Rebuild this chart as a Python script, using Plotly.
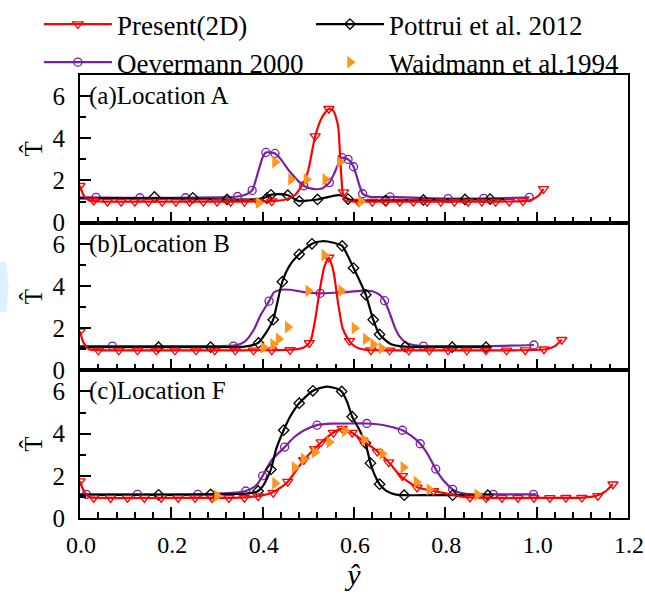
import plotly.graph_objects as go
from plotly.subplots import make_subplots

# ---------------- Location A ----------------
a_present_x = [0.0, 0.008, 0.02, 0.05, 0.2, 0.35, 0.42, 0.45, 0.47, 0.49, 0.50, 0.515, 0.53,
               0.545, 0.555, 0.565, 0.57, 0.575, 0.58, 0.60, 0.7, 0.8, 0.9, 0.97, 0.99, 1.005, 1.015]
a_present_T = [1.75, 1.3, 1.05, 1.0, 1.0, 1.0, 1.02, 1.1, 1.3, 1.9, 2.5, 4.1, 5.0,
               5.4, 5.3, 4.6, 3.0, 1.45, 1.05, 1.0, 1.0, 1.0, 1.0, 1.02, 1.1, 1.3, 1.6]
a_present_mx = [0.0, 0.03, 0.06, 0.09, 0.12, 0.15, 0.18, 0.21, 0.24, 0.27, 0.30, 0.33, 0.36, 0.39,
                0.42, 0.515, 0.545, 0.577, 0.61, 0.64, 0.67, 0.70, 0.73, 0.76, 0.79, 0.82, 0.85,
                0.88, 0.91, 0.94, 0.97, 1.015]
a_present_mT = [1.75, 1.05, 1.0, 1.0, 1.0, 1.0, 1.0, 1.0, 1.0, 1.0, 1.0, 1.0, 1.0, 1.0,
                1.02, 4.1, 5.4, 1.45, 1.0, 1.0, 1.0, 1.0, 1.0, 1.0, 1.0, 1.0, 1.0,
                1.0, 1.0, 1.0, 1.02, 1.6]

a_pottrui_x = [0.0, 0.1, 0.2, 0.3, 0.38, 0.40, 0.418, 0.435, 0.455, 0.47, 0.48, 0.50, 0.52,
               0.55, 0.57, 0.587, 0.60, 0.65, 0.75, 0.85, 0.93]
a_pottrui_T = [1.15, 1.15, 1.15, 1.1, 1.1, 1.15, 1.32, 1.35, 1.3, 1.12, 1.02, 1.05, 1.1,
               1.25, 1.3, 1.12, 1.05, 1.05, 1.08, 1.1, 1.1]
a_pottrui_mx = [0.163, 0.247, 0.322, 0.409, 0.418, 0.455, 0.48, 0.52, 0.587, 0.669, 0.752, 0.843, 0.898]
a_pottrui_mT = [1.22, 1.18, 1.1, 1.16, 1.32, 1.3, 1.02, 1.1, 1.12, 1.05, 1.08, 1.1, 1.12]

a_oever_x = [0.0, 0.1, 0.2, 0.3, 0.345, 0.365, 0.377, 0.39, 0.40, 0.407, 0.427, 0.44, 0.46, 0.49,
             0.51, 0.53, 0.546, 0.556, 0.566, 0.574, 0.587, 0.599, 0.61, 0.619, 0.635, 0.68, 0.8,
             0.9, 0.984]
a_oever_T = [1.2, 1.18, 1.18, 1.2, 1.24, 1.35, 1.53, 2.4, 3.1, 3.33, 3.28, 3.0, 2.4, 1.75,
             1.6, 1.62, 1.9, 2.3, 2.8, 3.08, 3.0, 2.65, 1.9, 1.37, 1.22, 1.22, 1.14, 1.15, 1.2]
a_oever_mx = [0.035, 0.131, 0.231, 0.345, 0.377, 0.407, 0.427, 0.49, 0.546, 0.574, 0.587, 0.599,
              0.619, 0.679, 0.806, 0.884, 0.984]
a_oever_mT = [1.2, 1.18, 1.18, 1.24, 1.53, 3.33, 3.28, 1.75, 1.9, 3.08, 3.0, 2.65,
              1.37, 1.22, 1.14, 1.15, 1.2]

a_waid_x = [0.391, 0.427, 0.462, 0.496, 0.537, 0.569, 0.615]
a_waid_T = [0.95, 2.87, 2.05, 2.05, 2.05, 2.87, 1.0]

# ---------------- Location B ----------------
b_present_x = [0.0, 0.008, 0.02, 0.05, 0.2, 0.35, 0.45, 0.48, 0.495, 0.505, 0.515, 0.525, 0.535,
               0.545, 0.555, 0.565, 0.575, 0.585, 0.595, 0.61, 0.63, 0.8, 0.95, 1.02, 1.04, 1.055]
b_present_T = [1.85, 1.3, 1.0, 0.95, 0.95, 0.95, 0.97, 1.02, 1.15, 1.4, 2.4, 3.8, 4.9,
               5.35, 4.7, 3.2, 2.0, 1.55, 1.25, 1.05, 0.97, 0.95, 0.95, 1.0, 1.15, 1.45]
b_present_mx = [0.0, 0.04, 0.085, 0.126, 0.167, 0.208, 0.254, 0.295, 0.34, 0.38, 0.42, 0.46,
                0.502, 0.545, 0.59, 0.637, 0.678, 0.72, 0.765, 0.806, 0.847, 0.889, 0.934,
                0.975, 1.016, 1.055]
b_present_mT = [1.85, 0.95, 0.95, 0.95, 0.95, 0.95, 0.95, 0.95, 0.95, 0.95, 0.96, 0.97,
                1.3, 5.35, 1.4, 0.96, 0.95, 0.95, 0.95, 0.95, 0.95, 0.95, 0.95,
                0.96, 1.0, 1.45]

b_pottrui_x = [0.0, 0.1, 0.2, 0.3, 0.36, 0.39, 0.405, 0.423, 0.433, 0.443, 0.46, 0.48, 0.508,
               0.53, 0.555, 0.574, 0.599, 0.626, 0.642, 0.656, 0.68, 0.712, 0.75, 0.85, 0.9]
b_pottrui_T = [1.1, 1.1, 1.1, 1.1, 1.12, 1.3, 1.7, 2.4, 3.3, 4.2, 5.0, 5.5, 6.0,
               6.12, 6.05, 5.9, 4.85, 3.58, 2.4, 1.7, 1.25, 1.12, 1.1, 1.1, 1.1]
b_pottrui_mx = [0.172, 0.286, 0.391, 0.423, 0.443, 0.48, 0.508, 0.574, 0.599, 0.626, 0.642,
                0.656, 0.712, 0.815, 0.889]
b_pottrui_mT = [1.1, 1.1, 1.3, 2.4, 4.2, 5.5, 6.0, 5.9, 4.85, 3.58, 2.4, 1.7, 1.12, 1.1, 1.1]

b_oever_x = [0.0, 0.1, 0.2, 0.3, 0.34, 0.36, 0.38, 0.395, 0.414, 0.425, 0.44, 0.46, 0.48, 0.50,
             0.526, 0.56, 0.59, 0.62, 0.64, 0.655, 0.667, 0.68, 0.69, 0.70, 0.715, 0.73, 0.752,
             0.8, 0.9, 0.994]
b_oever_T = [1.15, 1.15, 1.15, 1.15, 1.18, 1.35, 1.9, 2.6, 3.28, 3.7, 3.82, 3.82, 3.75, 3.68,
             3.65, 3.68, 3.72, 3.78, 3.75, 3.6, 3.3, 2.6, 2.0, 1.6, 1.3, 1.2, 1.15,
             1.15, 1.15, 1.2]
b_oever_mx = [0.071, 0.336, 0.414, 0.526, 0.667, 0.752, 0.994]
b_oever_mT = [1.15, 1.15, 3.28, 3.65, 3.3, 1.15, 1.2]

b_waid_x = [0.402, 0.423, 0.435, 0.455, 0.50, 0.535, 0.572, 0.601, 0.626, 0.642, 0.66]
b_waid_T = [1.08, 1.23, 1.49, 2.05, 3.77, 5.46, 3.77, 2.0, 1.49, 1.23, 1.05]

# ---------------- Location F ----------------
c_present_x = [0.0, 0.008, 0.02, 0.05, 0.2, 0.35, 0.39, 0.42, 0.44, 0.455, 0.47, 0.49, 0.51,
               0.53, 0.555, 0.575, 0.595, 0.62, 0.64, 0.66, 0.68, 0.695, 0.71, 0.74, 0.775,
               0.81, 0.84, 0.9, 1.0, 1.10, 1.13, 1.15, 1.167]
c_present_T = [1.75, 1.3, 1.0, 0.95, 0.95, 0.97, 1.04, 1.2, 1.45, 1.72, 2.15, 2.75, 3.2,
               3.62, 4.05, 4.24, 4.05, 3.65, 3.35, 3.0, 2.55, 2.15, 1.85, 1.45, 1.28,
               1.12, 1.0, 0.95, 0.95, 0.97, 1.05, 1.25, 1.6]
c_present_mx = [0.0, 0.03, 0.067, 0.104, 0.141, 0.178, 0.215, 0.252, 0.289, 0.326, 0.36, 0.39,
                0.423, 0.455, 0.49, 0.514, 0.528, 0.555, 0.574, 0.596, 0.619, 0.651, 0.676,
                0.706, 0.738, 0.774, 0.854, 0.889, 0.924, 0.959, 0.994, 1.029, 1.064, 1.099,
                1.134, 1.167]
c_present_mT = [1.75, 0.95, 0.95, 0.95, 0.95, 0.95, 0.95, 0.95, 0.95, 0.95, 0.96, 1.04,
                1.2, 1.72, 2.75, 3.28, 3.6, 4.05, 4.24, 4.05, 3.68, 3.15, 2.65,
                2.0, 1.45, 1.28, 0.98, 0.95, 0.95, 0.95, 0.95, 0.95, 0.96, 0.97,
                1.05, 1.6]

c_pottrui_x = [0.0, 0.1, 0.2, 0.3, 0.36, 0.38, 0.39, 0.40, 0.41, 0.418, 0.43, 0.446, 0.46, 0.48,
               0.51, 0.537, 0.56, 0.573, 0.585, 0.596, 0.61, 0.625, 0.636, 0.646, 0.656, 0.67,
               0.69, 0.71, 0.75, 0.85, 0.9]
c_pottrui_T = [1.1, 1.1, 1.1, 1.12, 1.15, 1.2, 1.28, 1.5, 1.9, 2.3, 3.3, 4.16, 4.8, 5.44,
               6.03, 6.22, 6.15, 6.0, 5.5, 4.8, 4.25, 3.55, 2.6, 2.0, 1.6, 1.3,
               1.12, 1.08, 1.08, 1.08, 1.08]
c_pottrui_mx = [0.172, 0.286, 0.39, 0.418, 0.446, 0.48, 0.51, 0.573, 0.596, 0.625, 0.636, 0.656,
                0.71, 0.816, 0.893]
c_pottrui_mT = [1.1, 1.12, 1.28, 2.3, 4.16, 5.44, 6.03, 6.0, 4.8, 3.55, 2.6, 1.6,
                1.08, 1.08, 1.08]

c_oever_x = [0.0, 0.1, 0.2, 0.3, 0.34, 0.363, 0.38, 0.39, 0.40, 0.42, 0.448, 0.47, 0.49, 0.519,
             0.55, 0.60, 0.628, 0.66, 0.685, 0.706, 0.725, 0.745, 0.762, 0.779, 0.797, 0.816,
             0.835, 0.86, 0.9, 1.0]
c_oever_T = [1.12, 1.12, 1.12, 1.15, 1.2, 1.28, 1.45, 1.65, 2.0, 2.75, 3.36, 3.85, 4.15, 4.4,
             4.47, 4.48, 4.48, 4.42, 4.3, 4.16, 3.9, 3.52, 3.0, 2.32, 1.75, 1.36,
             1.18, 1.12, 1.12, 1.12]
c_oever_mx = [0.014, 0.126, 0.258, 0.363, 0.40, 0.448, 0.519, 0.628, 0.706, 0.745, 0.779, 0.816,
              0.905, 0.993]
c_oever_mT = [1.12, 1.12, 1.12, 1.28, 2.0, 3.36, 4.4, 4.48, 4.16, 3.52, 2.32, 1.36,
              1.12, 1.12]

c_waid_x = [0.30, 0.427, 0.47, 0.49, 0.514, 0.546, 0.58, 0.622, 0.662, 0.708, 0.737, 0.765, 0.87]
c_waid_T = [1.05, 1.65, 2.4, 2.8, 3.12, 3.6, 4.12, 3.7, 3.05, 2.4, 1.7, 1.35, 1.1]

panel_labels = ["(a)Location A", "(b)Location B", "(c)Location F"]
series_names = ["Present(2D)", "Pottrui et al. 2012", "Oevermann 2000", "Waidmann et al.1994"]
x_ticks = [0.0, 0.2, 0.4, 0.6, 0.8, 1.0, 1.2]
y_ticks = [0, 2, 4, 6]

RED = "#FF0000"
BLACK = "#000000"
PURPLE = "#7A1FA2"
ORANGE = "#FF951C"
FONT = "Liberation Serif"

styles = {
    "present": dict(color=RED, symbol="triangle-down-open", size=9),
    "pottrui": dict(color=BLACK, symbol="diamond-open", size=8),
    "oever": dict(color=PURPLE, symbol="circle-open", size=8),
}

panels = [
    dict(present=(a_present_x, a_present_T, a_present_mx, a_present_mT),
         pottrui=(a_pottrui_x, a_pottrui_T, a_pottrui_mx, a_pottrui_mT),
         oever=(a_oever_x, a_oever_T, a_oever_mx, a_oever_mT),
         waid=(a_waid_x, a_waid_T)),
    dict(present=(b_present_x, b_present_T, b_present_mx, b_present_mT),
         pottrui=(b_pottrui_x, b_pottrui_T, b_pottrui_mx, b_pottrui_mT),
         oever=(b_oever_x, b_oever_T, b_oever_mx, b_oever_mT),
         waid=(b_waid_x, b_waid_T)),
    dict(present=(c_present_x, c_present_T, c_present_mx, c_present_mT),
         pottrui=(c_pottrui_x, c_pottrui_T, c_pottrui_mx, c_pottrui_mT),
         oever=(c_oever_x, c_oever_T, c_oever_mx, c_oever_mT),
         waid=(c_waid_x, c_waid_T)),
]

fig = make_subplots(rows=3, cols=1, shared_xaxes=True, vertical_spacing=0)

# legend entries: left column (legend) and right column (legend2)
legend_slot = {"present": "legend", "oever": "legend", "pottrui": "legend2"}
for key, name in zip(["present", "oever", "pottrui"],
                     [series_names[0], series_names[2], series_names[1]]):
    st = styles[key]
    fig.add_trace(go.Scatter(
        x=[None], y=[None], mode="lines+markers", name=name, legend=legend_slot[key],
        line=dict(color=st["color"], width=2.2),
        marker=dict(symbol=st["symbol"], size=st["size"], color=st["color"],
                    line=dict(width=1.3, color=st["color"]))), row=1, col=1)
fig.add_trace(go.Scatter(
    x=[None], y=[None], mode="markers", name=series_names[3], legend="legend2",
    marker=dict(symbol="triangle-right", size=11, color=ORANGE)), row=1, col=1)

for r, p in enumerate(panels, start=1):
    for key in ["oever", "pottrui", "present"]:
        st = styles[key]
        lx, lT, mx, mT = p[key]
        fig.add_trace(go.Scatter(
            x=lx, y=lT, mode="lines", showlegend=False, hoverinfo="skip",
            line=dict(color=st["color"], width=2.2, shape="spline", smoothing=0.6)),
            row=r, col=1)
        fig.add_trace(go.Scatter(
            x=mx, y=mT, mode="markers", showlegend=False,
            marker=dict(symbol=st["symbol"], size=st["size"], color=st["color"],
                        line=dict(width=1.3, color=st["color"]))),
            row=r, col=1)
    wx, wT = p["waid"]
    fig.add_trace(go.Scatter(
        x=wx, y=wT, mode="markers", showlegend=False,
        marker=dict(symbol="triangle-right", size=11, color=ORANGE)),
        row=r, col=1)

    fig.update_yaxes(
        range=[0, 7], tickvals=y_ticks, ticks="inside", ticklen=11, tickwidth=1.8,
        minor=dict(dtick=1, ticks="inside", ticklen=6, tickwidth=1.8, tickcolor="black"),
        showline=True, linecolor="black", linewidth=1.8, mirror=True,
        showgrid=False, zeroline=False, tickcolor="black",
        ticklabelstandoff=8,
        tickfont=dict(family=FONT, size=25, color="black"),
        title=dict(text="T\u0302", font=dict(family=FONT, size=25, color="black"), standoff=3),
        row=r, col=1)
    fig.update_xaxes(
        range=[0, 1.2], tickvals=x_ticks, ticks="inside", ticklen=11, tickwidth=1.8,
        minor=dict(dtick=0.04, ticks="inside", ticklen=6, tickwidth=1.8, tickcolor="black"),
        showline=True, linecolor="black", linewidth=1.8, mirror=True,
        showgrid=False, zeroline=False, tickcolor="black",
        tickformat=".1f", ticklabeloverflow="allow",
        tickfont=dict(family=FONT, size=24, color="black"),
        row=r, col=1)
    fig.add_annotation(
        text=panel_labels[r - 1], xref="x domain" if r == 1 else f"x{r} domain",
        yref="y" if r == 1 else f"y{r}", x=0.012, y=6, xanchor="left", yanchor="middle",
        showarrow=False, font=dict(family=FONT, size=25, color="black"))

fig.update_xaxes(showticklabels=True, ticklabelshift=1, ticklabelstandoff=4,
                 title=dict(text="<i>\u0177</i>", font=dict(family=FONT, size=30, color="black"),
                            standoff=4),
                 row=3, col=1)

# light blue sliver on the left edge
fig.add_shape(type="path", xref="paper", yref="paper", layer="below",
              path="M -0.146 0.578 L -0.135 0.578 L -0.130 0.521 L -0.135 0.465 L -0.146 0.465 Z",
              fillcolor="#DDF2FB", line=dict(width=0))

legend_common = dict(orientation="v", yref="container", y=1.007, yanchor="top",
                     xanchor="left", itemwidth=68, maxheight=200,
                     font=dict(family=FONT, size=27, color="black"),
                     bgcolor="rgba(0,0,0,0)", tracegroupgap=0)

fig.update_layout(
    width=645, height=597,
    margin=dict(l=80, r=17, t=75, b=79, autoexpand=False),
    paper_bgcolor="white", plot_bgcolor="white",
    font=dict(family=FONT, color="black"),
    legend=dict(x=-0.075, **legend_common),
    legend2=dict(x=0.4215, **legend_common),
)

fig.write_html("out.html")
